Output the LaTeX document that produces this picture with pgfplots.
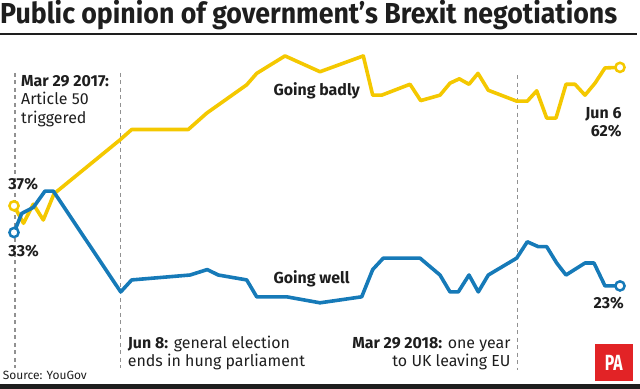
\documentclass[border=0pt]{standalone}
\usepackage{fontspec}
\setmainfont{Fira Sans}
\usepackage{pgfplots}
\pgfplotsset{compat=1.18}
\definecolor{yel}{RGB}{244,200,0}
\definecolor{blu}{RGB}{22,122,184}
\definecolor{dgray}{RGB}{145,145,145}
\definecolor{txt}{RGB}{30,30,30}
\definecolor{pared}{RGB}{226,35,38}
\begin{document}
\begin{tikzpicture}
\begin{axis}[at={(0,0)},anchor=south west, scale only axis, width=640bp, height=389bp,
  xmin=0,xmax=640,ymin=3.486,ymax=74.862, hide axis, clip=false]
\addplot[dgray, line width=1.2bp, dash pattern=on 4bp off 3.5bp] coordinates {(15,61.47) (15,7.34)};
\addplot[dgray, line width=1.2bp, dash pattern=on 4bp off 3.5bp] coordinates {(120.7,61.47) (120.7,7.34)};
\addplot[dgray, line width=1.2bp, dash pattern=on 4bp off 3.5bp] coordinates {(517.3,61.1) (517.3,6.97)};
% Going badly
\addplot[yel, line width=3.6bp, line join=round] coordinates {
(14,37.1) (23.5,33.9) (33.3,37.4) (43.3,34.5) (54,39.3) (120,49.2) (131.7,51.1) (188.3,51.1)
(206.7,54.1) (246.7,59.3) (256.7,61.4) (285,64.6) (320,61.7) (363.3,64.6) (372.7,57.4) (381.7,57.4)
(410,59.4) (420.7,56.4) (440,57.4) (450,59.6) (459.3,60.4) (469,59.4) (478,61.4) (488.3,58.3)
(516.7,56.3) (527.3,56.3) (536.7,58.2) (546.7,53.2) (556,53.2) (566,59.4) (575,59.4) (585,57.4)
(595,59.6) (605,62.4) (620,62.5)};
% Going well
\addplot[blu, line width=3.6bp, line join=round] coordinates {
(14,32.2) (21.7,35.7) (33.3,36.8) (45,39.8) (53.3,39.8) (120.7,21.3) (131.7,23.5) (190,24.4)
(207.3,25.4) (218.3,24.4) (246.7,23.5) (256.7,20.4) (286.7,20.4) (320,19.3) (361.7,20.4) (372.7,25.4)
(383.3,27.5) (420,27.5) (440,24.4) (450,21.3) (458.3,21.3) (469,24.4) (478.3,21.3) (488.3,24.4)
(516.7,27.5) (527.3,30.5) (538.3,29.6) (546.7,29.6) (556.7,26.6) (566,24.4) (585,26.6) (594,26.6)
(605,22.4) (620,22.4)};
\addplot[only marks, mark=*, mark size=4.6bp, mark options={fill=white, draw=yel, line width=2.5bp}] coordinates {(14,37.1) (620,62.5)};
\addplot[only marks, mark=*, mark size=4.6bp, mark options={fill=white, draw=blu, line width=2.5bp}] coordinates {(14,32.2) (620,22.4)};
\end{axis}
\begin{scope}[shift={(0bp,389bp)},x=1bp,y=-1bp, every node/.style={inner sep=0pt, text=txt}]
\node[anchor=base west, font=\fontsize{29}{32}\selectfont\bfseries] at (0,24) {\resizebox{617bp}{\height}{Public opinion of government’s Brexit negotiations}};
\draw[line width=1.5bp, txt] (0,34) -- (637,34);
\node[anchor=base west, font=\fontsize{16}{19}\selectfont] at (21,86.7) {\textbf{Mar 29 2017:}};
\node[anchor=base west, font=\fontsize{16}{19}\selectfont] at (21,105) {Article 50};
\node[anchor=base west, font=\fontsize{16}{19}\selectfont] at (21,123.3) {triggered};
\node[anchor=base west, font=\fontsize{16}{19}\selectfont\bfseries] at (273.3,96) {Going badly};
\node[anchor=base west, font=\fontsize{16}{19}\selectfont\bfseries] at (273.3,284) {Going well};
\node[anchor=base west, font=\fontsize{16}{19}\selectfont\bfseries] at (8.3,190) {37\%};
\node[anchor=base west, font=\fontsize{16}{19}\selectfont\bfseries] at (8.3,256.7) {33\%};
\node[anchor=base east, font=\fontsize{16}{19}\selectfont\bfseries] at (621.7,118.3) {Jun 6};
\node[anchor=base east, font=\fontsize{16}{19}\selectfont\bfseries] at (621.7,136.7) {62\%};
\node[anchor=base east, font=\fontsize{16}{19}\selectfont\bfseries] at (624,308.3) {23\%};
\node[anchor=base west, font=\fontsize{16}{19}\selectfont] at (127.7,348.3) {\textbf{Jun 8:} general election};
\node[anchor=base west, font=\fontsize{16}{19}\selectfont] at (127.7,366.7) {ends in hung parliament};
\node[anchor=base east, font=\fontsize{16}{19}\selectfont] at (510.7,348.3) {\textbf{Mar 29 2018:} one year};
\node[anchor=base east, font=\fontsize{16}{19}\selectfont] at (510.7,366.7) {to UK leaving EU};
\node[anchor=base west, font=\fontsize{12}{14}\selectfont] at (2.7,379.3) {Source: YouGov};
\fill[pared] (595,344) rectangle (632.7,381);
\node[text=white, font=\fontsize{22}{24}\selectfont\bfseries] at (613.8,362.5) {\scalebox{0.72}[1]{PA}};
\fill[txt] (0,384.5) rectangle (640,389);
\end{scope}
\pgfresetboundingbox
\path (0,0) rectangle (640bp,389bp);
\end{tikzpicture}
\end{document}
